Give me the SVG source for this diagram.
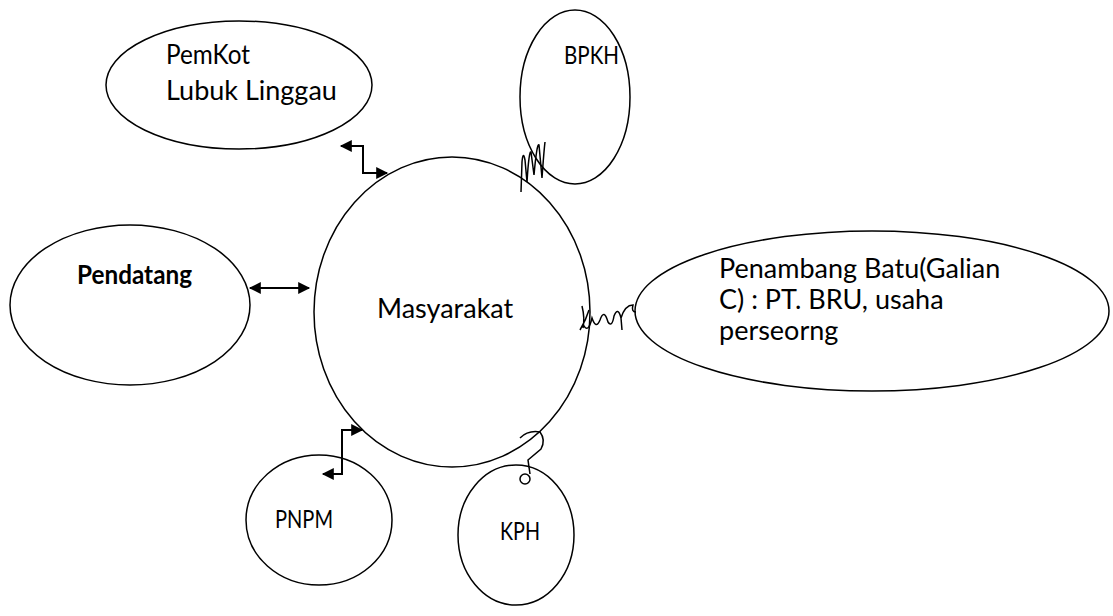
<svg xmlns="http://www.w3.org/2000/svg" width="1113" height="616" viewBox="0 0 1113 616">
<style>
.n{fill:#fff;stroke:#000;stroke-width:1.5}
.t{font-family:Lato,"Open Sans",sans-serif;font-size:27px;fill:#000}
.s{font-size:25px}
.c{fill:none;stroke:#000;stroke-width:2}
.w{fill:none;stroke:#000;stroke-width:1.5}
</style>
<defs>
<marker id="ah" viewBox="0 0 10 10" refX="9" refY="5" markerWidth="14" markerHeight="12" markerUnits="userSpaceOnUse" orient="auto-start-reverse">
<path d="M0,0 L10,5 L0,10 Z" fill="#000"/>
</marker>
</defs>
<rect width="1113" height="616" fill="#fff"/>
<g id="masyarakat"><ellipse class="n" cx="452" cy="312" rx="138" ry="155"/><text class="t" x="377" y="318">Masyarakat</text></g>
<g id="pemkot"><ellipse class="n" cx="239" cy="85" rx="133" ry="64"/><text class="t" x="166" y="64" textLength="84" lengthAdjust="spacingAndGlyphs">PemKot</text><text class="t" x="166" y="100">Lubuk Linggau</text></g>
<g id="bpkh"><ellipse class="n" cx="575" cy="97" rx="55" ry="87"/><text class="t s" x="564" y="64" textLength="55" lengthAdjust="spacingAndGlyphs">BPKH</text></g>
<g id="pendatang"><ellipse class="n" cx="130" cy="305" rx="120" ry="80"/><text class="t" x="77" y="284" font-weight="bold" textLength="115" lengthAdjust="spacingAndGlyphs">Pendatang</text></g>
<g id="penambang"><ellipse class="n" cx="872" cy="311" rx="237" ry="80"/><text class="t" x="719" y="278">Penambang Batu(Galian</text><text class="t" x="719" y="309">C) : PT. BRU, usaha</text><text class="t" x="719" y="340">perseorng</text></g>
<g id="pnpm"><ellipse class="n" cx="319" cy="520" rx="73" ry="65"/><text class="t s" x="275" y="528" textLength="58" lengthAdjust="spacingAndGlyphs">PNPM</text></g>
<g id="kph"><ellipse class="n" cx="516" cy="535" rx="58" ry="70"/><text class="t s" x="500" y="540" textLength="40" lengthAdjust="spacingAndGlyphs">KPH</text></g>
<g id="connectors">
<path class="c" d="M341,146 L363,146 L363,173 L387,173" marker-start="url(#ah)" marker-end="url(#ah)"/>
<path class="c" d="M250,288 L309,288" marker-start="url(#ah)" marker-end="url(#ah)"/>
<path class="c" d="M362,430 L342,430 L342,474 L323,474" marker-start="url(#ah)" marker-end="url(#ah)"/>
<path class="w" d="M521,192 L522,162 Q523,150 525,160 L527,182 Q529,150 531,152 L534,175 Q537,142 539,145 L542,178 Q544,150 545,142"/>
<path class="w" d="M580,330 Q586,320 589,310 M583,328 Q585,318 582,306 M583,324 Q588,335 592,318 Q596,330 600,320 Q604,308 608,322 Q612,328 614,316 Q618,306 621,318 L622,330 M621,318 Q625,305 633,305 Q631,312 636,312"/>
<path class="w" d="M520,438 Q528,430 540,432 Q546,440 541,449 L528,460 L530,474"/>
<circle class="w" cx="525" cy="479" r="5"/>
</g>
</svg>
